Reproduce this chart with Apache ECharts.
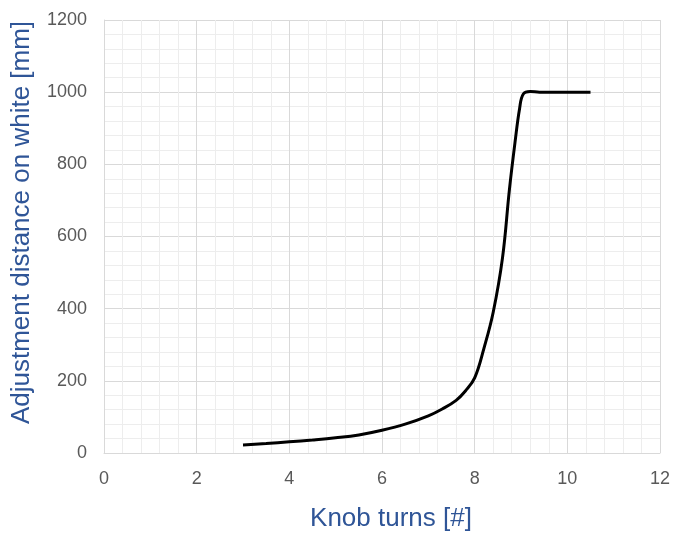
<!DOCTYPE html>
<html>
<head>
<meta charset="utf-8">
<script src="https://cdn.jsdelivr.net/npm/echarts@6/dist/echarts.min.js"></script>
<style>html,body{margin:0;padding:0;background:#fff}#c{width:679px;height:537px}</style>
</head>
<body>
<div id="c"></div>
<script>
var knobTurns = [3.0, 3.5, 4.0, 4.5, 5.0, 5.5, 6.0, 6.5, 7.0, 7.3, 7.6, 7.8, 8.0, 8.2, 8.4, 8.6, 8.75, 8.87, 8.97, 9.05, 9.2, 9.4, 9.7, 10.0, 10.5];
var distance = [22, 26, 31, 36, 42, 50, 63, 80, 103, 122, 146, 172, 208, 290, 390, 540, 730, 860, 955, 995, 1002, 1000, 1000, 1000, 1000];
var xTitle = 'Knob turns [#]';
var yTitle = 'Adjustment distance on white [mm]';

var chart = echarts.init(document.getElementById('c'), null, {renderer: 'canvas'});
var pts = knobTurns.map(function (x, i) { return [x, distance[i]]; });
var font = 'Liberation Sans, Arial, sans-serif';
chart.setOption({
  animation: false,
  backgroundColor: '#ffffff',
  grid: {left: 104, top: 20, right: 19, bottom: 84, containLabel: false, outerBoundsMode: 'none'},
  xAxis: {
    type: 'value', min: 0, max: 12, interval: 2,
    name: xTitle, nameLocation: 'middle', nameGap: 53,
    nameTextStyle: {color: '#2f5597', fontSize: 26, fontFamily: font, padding: [0, 0, 0, 18]},
    axisLine: {show: true, lineStyle: {color: '#d9d9d9', width: 1}},
    axisTick: {show: false},
    axisLabel: {color: '#595959', fontSize: 18, margin: 17, fontFamily: font, formatter: function (v) { return String(v); }},
    splitLine: {show: true, lineStyle: {color: '#d9d9d9', width: 1}},
    minorTick: {show: false, splitNumber: 5},
    minorSplitLine: {show: true, lineStyle: {color: '#ededed', width: 1}}
  },
  yAxis: {
    type: 'value', min: 0, max: 1200, interval: 200,
    name: yTitle, nameLocation: 'middle', nameGap: 69, nameRotate: 90,
    nameTextStyle: {color: '#2f5597', fontSize: 26, fontFamily: font, padding: [0, 0, 0, 28]},
    axisLine: {show: true, lineStyle: {color: '#d9d9d9', width: 1}},
    axisTick: {show: false},
    axisLabel: {color: '#595959', fontSize: 18, margin: 17, fontFamily: font, formatter: function (v) { return String(v); }},
    splitLine: {show: true, lineStyle: {color: '#d9d9d9', width: 1}},
    minorTick: {show: false, splitNumber: 5},
    minorSplitLine: {show: true, lineStyle: {color: '#ededed', width: 1}}
  },
  series: [{
    type: 'line',
    data: pts,
    smooth: 0.4,
    showSymbol: false,
    symbol: 'none',
    lineStyle: {color: '#000000', width: 3}
  }]
});
</script>
</body>
</html>
